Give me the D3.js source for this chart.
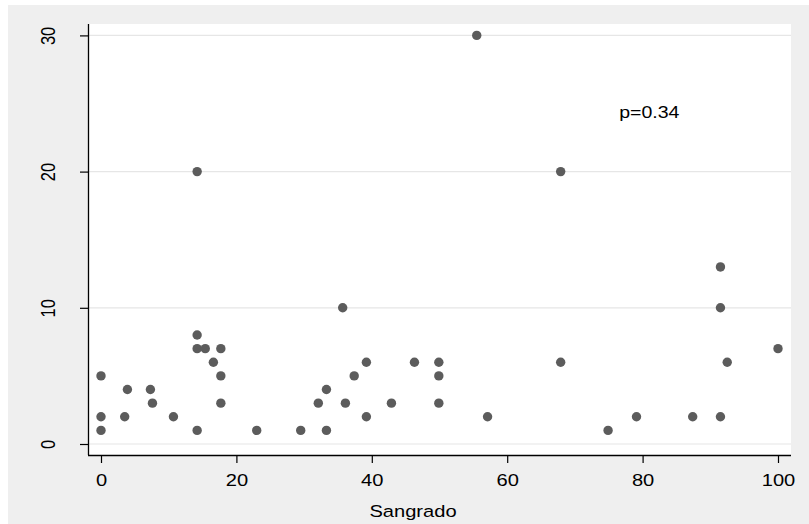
<!DOCTYPE html>
<html>
<head>
<meta charset="utf-8">
<script src="https://cdn.jsdelivr.net/npm/d3@7"></script>
<style>
  body { margin: 0; background: #fff; }
  text { font-family: "Liberation Sans", Arial, sans-serif; }
</style>
</head>
<body>
<script>
// Sangrado (x) vs outcome (y)
var sangrado = [0, 0, 0, 3.9, 3.5, 7.3, 7.6, 10.7, 14.2, 14.2, 14.2, 14.2, 15.4, 16.6, 17.7, 17.7, 17.7,
                23.0, 29.5, 32.1, 33.3, 33.3, 35.7, 36.1, 37.4, 39.2, 39.2, 42.9, 46.3, 49.9, 49.9, 49.9,
                55.5, 57.1, 67.9, 67.9, 74.9, 79.1, 87.4, 91.5, 91.5, 91.5, 92.5, 100];
var valores = [5, 2, 1, 4, 2, 4, 3, 2, 20, 8, 7, 1, 7, 6, 7, 5, 3,
               1, 1, 3, 4, 1, 10, 3, 5, 6, 2, 3, 6, 6, 5, 3,
               30, 2, 20, 6, 1, 2, 2, 13, 10, 2, 6, 7];
var xTicks = [0, 20, 40, 60, 80, 100];
var yTicks = [0, 10, 20, 30];
var pLabel = {x: 81, y: 24.4, text: "p=0.34"};

var width = 809, height = 524;
var stretch = 1.22; // text in the picture is a little wider than tall

var svg = d3.select("body").append("svg")
    .attr("width", width)
    .attr("height", height);

// outer gray panel
svg.append("rect")
    .attr("x", 8).attr("y", 5)
    .attr("width", width - 8).attr("height", height - 5)
    .attr("fill", "#efefef");

var plotL = 88, plotR = 791, plotT = 24, plotB = 455;

// white plot region
svg.append("rect")
    .attr("x", plotL).attr("y", plotT)
    .attr("width", plotR - plotL).attr("height", plotB - plotT)
    .attr("fill", "#ffffff");

var x = d3.scaleLinear().domain([0, 100]).range([101, 778]);
var y = d3.scaleLinear().domain([0, 30]).range([444, 35.4]);

// horizontal grid lines
svg.selectAll("line.grid")
    .data(yTicks)
    .enter().append("line")
    .attr("class", "grid")
    .attr("x1", plotL + 1).attr("x2", plotR)
    .attr("y1", function(d) { return y(d); })
    .attr("y2", function(d) { return y(d); })
    .attr("stroke", "#e6e6e6")
    .attr("stroke-width", 1.2);

// x axis
var xAxis = svg.append("g")
    .attr("transform", "translate(0," + plotB + ")")
    .call(d3.axisBottom(x).tickValues(xTicks).tickSize(8).tickSizeOuter(0).tickPadding(4));
xAxis.select(".domain").attr("d", "M" + plotL + ",0.5H" + plotR).attr("stroke", "#000").attr("stroke-width", 1.3);
xAxis.selectAll(".tick line").attr("stroke", "#000").attr("stroke-width", 1.2);
xAxis.selectAll(".tick text")
    .attr("y", 0).attr("dy", 0)
    .attr("transform", "translate(0,31) scale(" + stretch + ",1)")
    .attr("font-size", 16.5)
    .attr("font-family", "Liberation Sans, Arial, sans-serif")
    .attr("fill", "#000");

// y axis
var yAxis = svg.append("g")
    .attr("transform", "translate(" + plotL + ",0)")
    .call(d3.axisLeft(y).tickValues(yTicks).tickSize(8).tickSizeOuter(0));
yAxis.select(".domain").attr("d", "M0.5," + plotT + "V" + plotB).attr("stroke", "#000").attr("stroke-width", 1.3);
yAxis.selectAll(".tick line").attr("stroke", "#000").attr("stroke-width", 1.2);
yAxis.selectAll(".tick text")
    .attr("x", 0).attr("y", 0).attr("dy", 0)
    .attr("text-anchor", "middle")
    .attr("transform", "translate(-33.5,0) scale(" + stretch + ",1) rotate(-90)")
    .attr("font-size", 16.5)
    .attr("font-family", "Liberation Sans, Arial, sans-serif")
    .attr("fill", "#000");

// points
svg.selectAll("circle.pt")
    .data(sangrado)
    .enter().append("circle")
    .attr("class", "pt")
    .attr("cx", function(d) { return x(d); })
    .attr("cy", function(d, i) { return y(valores[i]); })
    .attr("r", 4.7)
    .attr("fill", "#5c5c5c");

// p value annotation
svg.append("text")
    .attr("text-anchor", "middle")
    .attr("transform", "translate(" + x(pLabel.x) + "," + (y(pLabel.y) + 6) + ") scale(" + stretch + ",1)")
    .attr("font-size", 16)
    .attr("fill", "#000")
    .text(pLabel.text);

// x axis title
svg.append("text")
    .attr("text-anchor", "middle")
    .attr("transform", "translate(413,516.5) scale(" + stretch + ",1)")
    .attr("font-size", 16.5)
    .attr("fill", "#000")
    .text("Sangrado");
</script>
</body>
</html>
